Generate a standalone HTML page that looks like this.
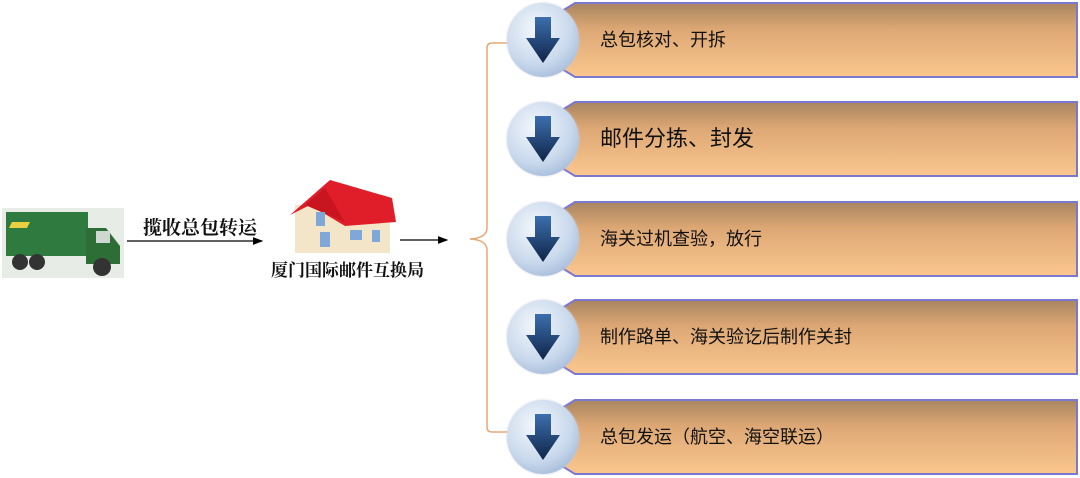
<!DOCTYPE html>
<html><head><meta charset="utf-8"><style>
body{margin:0;width:1080px;height:478px;background:#fff;position:relative;overflow:hidden;font-family:"Liberation Sans","Noto Sans CJK SC",sans-serif}
.box{position:absolute;left:555px;width:522px;height:74px;}
.box svg{position:absolute;left:0;top:0}
.box span{position:absolute;left:45px;top:0;line-height:76px;font-size:18px;color:#111}
.c{position:absolute;left:507px;width:72px;height:74px;border-radius:50%;background:radial-gradient(circle at 40% 35%,#f4f8fc 0%,#c8d8ec 55%,#8aa6cc 100%);box-shadow:0 0 2px #ccd}
.c svg{position:absolute;left:18px;top:12px}
.t{position:absolute;font-weight:bold;font-family:"Liberation Serif","Noto Serif CJK SC",serif;color:#111}
</style></head><body>
<svg width="1080" height="478" style="position:absolute;left:0;top:0">
<defs><marker id="a" markerWidth="8" markerHeight="8" refX="7" refY="4" orient="auto"><path d="M0,1 L8,4 L0,7z" fill="#000"/></marker>
<linearGradient id="g" x1="0" y1="0" x2="0" y2="1"><stop offset="0" stop-color="#a88560"/><stop offset="0.35" stop-color="#dca774"/><stop offset="1" stop-color="#fbc78f"/></linearGradient></defs>
<line x1="127" y1="241" x2="262" y2="241" stroke="#000" stroke-width="1.3" marker-end="url(#a)"/>
<line x1="400" y1="240" x2="447" y2="240" stroke="#000" stroke-width="1.3" marker-end="url(#a)"/>
<path d="M510,43 H492 Q487,43 487,48 V228 Q487,238 470,239 Q487,240 487,250 V427 Q487,432 492,432 H510" fill="none" stroke="#e8a878" stroke-width="1.5"/>
<g>
<rect x="2" y="208" width="122" height="70" fill="#e8ece6"/>
<rect x="6" y="212" width="82" height="44" fill="#2f7a3e"/>
<path d="M86,228 H106 L120,246 V264 H86z" fill="#2c6e36"/>
<rect x="96" y="231" width="14" height="12" fill="#cfd8d0"/>
<circle cx="20" cy="262" r="8" fill="#333"/><circle cx="37" cy="262" r="8" fill="#333"/><circle cx="102" cy="267" r="9" fill="#333"/>
<path d="M12,222 h18 l-3,6 h-18z" fill="#e8d040"/>
</g>
<g>
<rect x="295" y="205" width="95" height="48" fill="#f3e6c8"/>
<path d="M290,215 L330,180 L392,198 L396,222 L345,226 L310,205z" fill="#e01e2a"/>
<path d="M305,205 L325,188 L345,222z" fill="#c8151f"/>
<rect x="316" y="212" width="9" height="14" fill="#7fa8d8"/><rect x="320" y="232" width="10" height="15" fill="#7fa8d8"/><rect x="350" y="230" width="12" height="10" fill="#7fa8d8"/><rect x="372" y="230" width="8" height="12" fill="#7fa8d8"/>
</g>
</svg>
<div class="t" style="left:143px;top:213px;font-size:19px">揽收总包转运</div>
<div class="t" style="left:271px;top:256px;font-size:17px">厦门国际邮件互换局</div>

<div class="box" style="top:2px"><svg width="524" height="76"><path d="M20,1 H522 V75 H20 L2,64 V12z" fill="url(#g)" stroke="#7b78d0" stroke-width="2"/></svg><span>总包核对、开拆</span></div>
<div class="box" style="top:101px"><svg width="524" height="76"><path d="M20,1 H522 V75 H20 L2,64 V12z" fill="url(#g)" stroke="#7b78d0" stroke-width="2"/></svg><span style="font-size:22px">邮件分拣、封发</span></div>
<div class="box" style="top:201px"><svg width="524" height="76"><path d="M20,1 H522 V75 H20 L2,64 V12z" fill="url(#g)" stroke="#7b78d0" stroke-width="2"/></svg><span>海关过机查验，放行</span></div>
<div class="box" style="top:299px"><svg width="524" height="76"><path d="M20,1 H522 V75 H20 L2,64 V12z" fill="url(#g)" stroke="#7b78d0" stroke-width="2"/></svg><span>制作路单、海关验讫后制作关封</span></div>
<div class="box" style="top:399px"><svg width="524" height="76"><path d="M20,1 H522 V75 H20 L2,64 V12z" fill="url(#g)" stroke="#7b78d0" stroke-width="2"/></svg><span>总包发运（航空、海空联运）</span></div>

<div class="c" style="top:3px"><svg width="36" height="50"><defs><linearGradient id="ar" x1="0" y1="0" x2="0" y2="1"><stop offset="0" stop-color="#3c6fae"/><stop offset="1" stop-color="#0f2448"/></linearGradient></defs><path d="M10,2 H26 V23 H35 L18,48 L1,23 H10z" fill="url(#ar)"/></svg></div>
<div class="c" style="top:102px"><svg width="36" height="50"><path d="M10,2 H26 V23 H35 L18,48 L1,23 H10z" fill="url(#ar)"/></svg></div>
<div class="c" style="top:202px"><svg width="36" height="50"><path d="M10,2 H26 V23 H35 L18,48 L1,23 H10z" fill="url(#ar)"/></svg></div>
<div class="c" style="top:300px"><svg width="36" height="50"><path d="M10,2 H26 V23 H35 L18,48 L1,23 H10z" fill="url(#ar)"/></svg></div>
<div class="c" style="top:400px"><svg width="36" height="50"><path d="M10,2 H26 V23 H35 L18,48 L1,23 H10z" fill="url(#ar)"/></svg></div>
</body></html>
